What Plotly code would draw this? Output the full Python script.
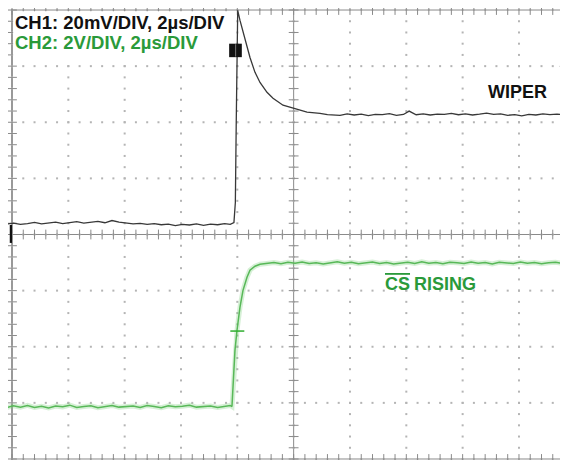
import numpy as np
import plotly.graph_objects as go

# ---------------- data ----------------
# time in microseconds (2 us/div, 0 at screen centre)
base_t = [-10.43, -10.2, -9.95, -9.7, -9.45, -9.2, -8.95, -8.7, -8.45, -8.2, -7.95,
          -7.7, -7.45, -7.2, -6.95, -6.7, -6.45, -6.2, -5.95, -5.7, -5.45, -5.2,
          -4.95, -4.7, -4.45, -4.2, -3.95, -3.7, -3.45, -3.2, -2.95, -2.7, -2.45,
          -2.25]

# CH1 (WIPER), mV, 20 mV/div
ch1_base_mv = [0.6, 0.3, 0.7, 0.2, 0.5, 0.9, 0.4, 0.6, 1.0, 0.5, 0.8,
               1.2, 0.7, 0.9, 1.3, 0.8, 1.6, 1.0, 0.7, 0.4, 0.6, 0.2,
               0.5, 0.1, 0.3, -0.2, 0.2, 0.0, 0.4, -0.1, 0.3, 0.1, 0.5,
               0.2]
ch1_edge_t = [-2.12, -2.07, -2.04, -2.01, -1.986, -1.905, -1.727, -1.55, -1.372,
              -1.195, -0.946, -0.733, -0.378, -0.023, 0.474, 0.936, 1.2, 1.646]
ch1_edge_mv = [0.9, 8.0, 35.0, 66.0, 76.5, 72.9, 65.8, 59.7, 54.4,
               50.8, 47.3, 45.2, 42.7, 41.6, 40.2, 39.8, 39.3, 39.1]
ch1_flat_t = [1.9, 2.15, 2.4, 2.65, 2.9, 3.15, 3.4, 3.65, 3.9, 4.1, 4.35,
              4.6, 4.85, 5.1, 5.35, 5.6, 5.85, 6.1, 6.35, 6.6, 6.85, 7.1,
              7.35, 7.6, 7.85, 8.1, 8.35, 8.6, 8.85, 9.1, 9.35, 9.6, 9.75]
ch1_flat_mv = [39.6, 39.2, 39.5, 39.0, 39.4, 39.3, 39.7, 39.1, 39.4, 40.6, 39.3,
               39.6, 39.2, 39.5, 39.4, 39.8, 39.3, 39.6, 39.2, 39.5, 39.9, 39.4,
               39.6, 39.1, 39.3, 38.9, 39.4, 39.2, 39.6, 39.3, 39.5, 39.4, 39.6]

# CH2 (CS rising), V, 2 V/div
ch2_base_v = [-0.02, -0.06, 0.01, -0.04, 0.02, -0.05, -0.01, -0.07, 0.00, -0.03, 0.03,
              -0.05, -0.02, 0.01, -0.06, -0.01, 0.02, -0.04, -0.03, 0.00, -0.05, 0.02,
              -0.02, -0.06, 0.01, -0.03, -0.01, 0.03, -0.04, -0.02, 0.00, -0.05, -0.01,
              0.02]
ch2_edge_t = [-2.19, -2.153, -2.118, -2.083, -2.011, -1.905, -1.798, -1.656, -1.55, -1.372, -1.195]
ch2_edge_v = [-0.02, 0.68, 1.46, 1.99, 2.70, 3.52, 4.12, 4.59, 4.84, 4.98, 5.05]
ch2_flat_t = [-0.95, -0.7, -0.45, -0.2, 0.05, 0.3, 0.55, 0.8, 1.05, 1.3, 1.55,
              1.8, 2.05, 2.3, 2.55, 2.8, 3.05, 3.3, 3.55, 3.8, 4.05, 4.3,
              4.55, 4.8, 5.05, 5.3, 5.55, 5.8, 6.05, 6.3, 6.55, 6.8, 7.05,
              7.3, 7.55, 7.8, 8.05, 8.3, 8.55, 8.8, 9.05, 9.3, 9.55, 9.75]
ch2_flat_v = [5.08, 5.11, 5.07, 5.12, 5.09, 5.13, 5.08, 5.10, 5.06, 5.11, 5.14,
              5.09, 5.12, 5.07, 5.10, 5.13, 5.08, 5.11, 5.06, 5.10, 5.12, 5.08,
              5.14, 5.09, 5.11, 5.07, 5.12, 5.10, 5.08, 5.13, 5.09, 5.11, 5.06,
              5.12, 5.10, 5.08, 5.13, 5.09, 5.11, 5.07, 5.10, 5.12, 5.08, 5.10]

trig_t = -2.0
trig_v = 2.67

ch1_label = "CH1: 20mV/DIV, 2µs/DIV"
ch2_label = "CH2: 2V/DIV, 2µs/DIV"
wiper_label = "WIPER"

# ---------------- styling ----------------
PAGE_OFF = 8          # default body margin of the page
W, H = 560, 452       # figure fills the window inside the body margin
GRID = "#b4b4b4"
AXC = "#8a8a8a"
BLACK_TR = "#383838"
GREEN_TR = "#58b858"
GREEN_TXT = "#2a9a3a"
FONT = "Liberation Sans, Arial, sans-serif"

ch1_t = base_t + ch1_edge_t + ch1_flat_t
ch1_mv = ch1_base_mv + ch1_edge_mv + ch1_flat_mv
ch2_t = base_t + ch2_edge_t + ch2_flat_t
ch2_v = ch2_base_v + ch2_edge_v + ch2_flat_v

fig = go.Figure()

# graticule dots (y in divisions)
gx, gy = [], []
for t in np.arange(-10, 10.01, 2):
    for d in np.arange(-4, 4.01, 0.2):
        gx.append(t); gy.append(d)
for d in np.arange(-4, 4.01, 1):
    for t in np.arange(-10, 10.01, 0.4):
        gx.append(t); gy.append(d)
fig.add_trace(go.Scatter(x=gx, y=gy, mode="markers", yaxis="y",
                         marker=dict(symbol="square", size=2, color=GRID),
                         hoverinfo="skip", showlegend=False))

# tick marks on centre lines and borders
tt = np.arange(-10, 10.01, 0.4)
dd = np.arange(-4, 4.01, 0.2)
for yv in (0, 4, -4):
    fig.add_trace(go.Scatter(x=tt, y=[yv] * len(tt), mode="markers", yaxis="y",
                             marker=dict(symbol="line-ns", size=7,
                                         line=dict(width=1, color=AXC)),
                             hoverinfo="skip", showlegend=False))
for xv in (0, -10):
    fig.add_trace(go.Scatter(x=[xv] * len(dd), y=dd, mode="markers", yaxis="y",
                             marker=dict(symbol="line-ew", size=7,
                                         line=dict(width=1, color=AXC)),
                             hoverinfo="skip", showlegend=False))

# CH2 glow + trace
fig.add_trace(go.Scatter(x=ch2_t, y=ch2_v, mode="lines", yaxis="y3",
                         line=dict(color="rgba(120,205,120,0.30)", width=5),
                         hoverinfo="skip", showlegend=False))
fig.add_trace(go.Scatter(x=ch2_t, y=ch2_v, mode="lines", yaxis="y3",
                         line=dict(color=GREEN_TR, width=1.5),
                         name="CS", showlegend=False))
# CH1 trace
fig.add_trace(go.Scatter(x=ch1_t, y=ch1_mv, mode="lines", yaxis="y2",
                         line=dict(color=BLACK_TR, width=1.3),
                         name="WIPER", showlegend=False))

# CH2 trigger marker
fig.add_trace(go.Scatter(x=[trig_t], y=[trig_v], mode="markers", yaxis="y3",
                         marker=dict(symbol="line-ew", size=10,
                                     line=dict(width=1.5, color="#2fae2f")),
                         hoverinfo="skip", showlegend=False))
# trigger level arrow (right edge)
fig.add_trace(go.Scatter(x=[9.62], y=[3.0], mode="markers", yaxis="y",
                         marker=dict(symbol="triangle-left", size=10, color="#111"),
                         hoverinfo="skip", showlegend=False))

shapes = [
    # centre lines
    dict(type="line", xref="x", yref="y", x0=-10.5, x1=10, y0=0, y1=0,
         line=dict(color=AXC, width=1), layer="below"),
    dict(type="line", xref="x", yref="y", x0=0, x1=0, y0=-4.1, y1=4,
         line=dict(color=AXC, width=1), layer="below"),
    # borders
    dict(type="line", xref="x", yref="y", x0=-10, x1=10, y0=4, y1=4,
         line=dict(color=AXC, width=1), layer="below"),
    dict(type="line", xref="x", yref="y", x0=-10, x1=10, y0=-4, y1=-4,
         line=dict(color=AXC, width=1), layer="below"),
    dict(type="line", xref="x", yref="y", x0=-10, x1=-10, y0=-4.1, y1=4,
         line=dict(color="#555", width=1.2), layer="below"),
    # white label box
    dict(type="rect", xref="x", yref="y", x0=-9.96, x1=-2.2, y0=3.15, y1=3.98,
         fillcolor="white", line=dict(width=0), layer="above"),
    # trigger position box
    dict(type="rect", xref="x", yref="y", x0=-2.29, x1=-1.84, y0=3.16, y1=3.40,
         fillcolor="#111", line=dict(width=0), layer="above"),
    dict(type="line", xref="x", yref="y", x0=-2.06, x1=-2.06, y0=3.17, y1=3.39,
         line=dict(color="#777", width=1), layer="above"),
    # CH1 ground marker at left edge
    dict(type="rect", xref="x", yref="y", x0=-10.08, x1=-10.0, y0=-0.15, y1=0.17,
         fillcolor="#111", line=dict(width=0), layer="above"),
]


def px(xp):
    return (xp - PAGE_OFF) / W


def py(yp):
    return 1 - (yp - PAGE_OFF) / H


annotations = [
    dict(text=ch1_label, x=px(13), y=py(22), xref="paper", yref="paper",
         xanchor="left", yanchor="middle", showarrow=False,
         font=dict(family=FONT, size=18.5, color="#111", weight="bold")),
    dict(text=ch2_label, x=px(13), y=py(43), xref="paper", yref="paper",
         xanchor="left", yanchor="middle", showarrow=False,
         font=dict(family=FONT, size=18.5, color=GREEN_TXT, weight="bold")),
    dict(text=wiper_label, x=px(486), y=py(92), xref="paper", yref="paper",
         xanchor="left", yanchor="middle", showarrow=False,
         font=dict(family=FONT, size=18, color="#111", weight="bold")),
    dict(text="CS", x=px(383), y=py(284), xref="paper", yref="paper",
         xanchor="left", yanchor="middle", showarrow=False,
         font=dict(family=FONT, size=18, color=GREEN_TXT, weight="bold",
                   lineposition="over")),
    dict(text="RISING", x=px(412), y=py(284), xref="paper", yref="paper",
         xanchor="left", yanchor="middle", showarrow=False,
         font=dict(family=FONT, size=18, color=GREEN_TXT, weight="bold")),
]

ax_common = dict(visible=False, showgrid=False, zeroline=False, fixedrange=True)
fig.update_layout(
    width=W, height=H,
    margin=dict(l=0, r=0, t=0, b=0),
    paper_bgcolor="white", plot_bgcolor="white",
    xaxis=dict(range=[-10.142, 9.741], **ax_common),
    yaxis=dict(range=[-4.018, 4.036], **ax_common),
    yaxis2=dict(range=[-83.74, 77.33], overlaying="y", **ax_common),
    yaxis3=dict(range=[-1.924, 14.18], overlaying="y", **ax_common),
    shapes=shapes,
    annotations=annotations,
    showlegend=False,
)

fig.write_html("out.html")
